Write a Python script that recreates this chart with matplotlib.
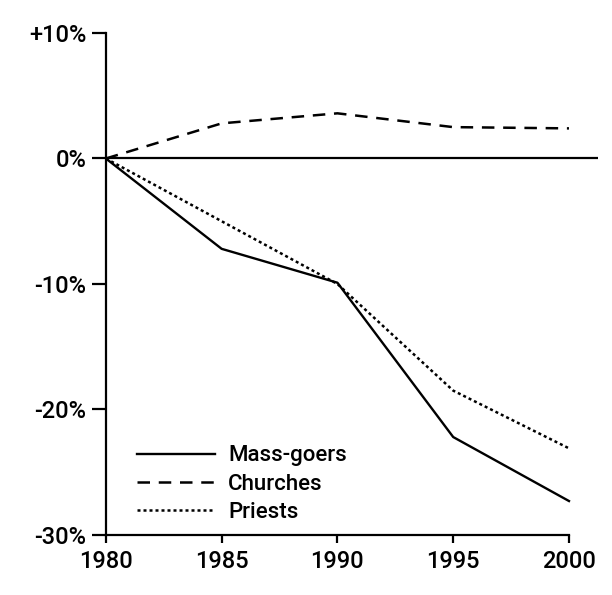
#!/usr/bin/env python3
# Mass-goers / churches / priests, % change since 1980
import numpy as np
import matplotlib
matplotlib.use("Agg")
import matplotlib.pyplot as plt

years = [1980, 1985, 1990, 1995, 2000]
mass_goers = [0.0, -7.2, -9.9, -22.2, -27.3]
churches = [0.0, 2.8, 3.6, 2.5, 2.4]
priests = [0.0, -5.0, -10.0, -18.5, -23.1]

yticks = [10, 0, -10, -20, -30]
ytick_labels = ["+10%", "0%", "-10%", "-20%", "-30%"]

plt.rcParams["font.family"] = ["Roboto", "DejaVu Sans"]
plt.rcParams["font.weight"] = "medium"

fig = plt.figure(figsize=(6.12, 5.95), dpi=100)
ax = fig.add_axes([0.173, 0.101, 0.804, 0.8435])

ax.axhline(0, color="black", lw=1.6, zorder=1)
ax.plot(years, mass_goers, color="black", lw=1.7, ls="-", label="Mass-goers")
ax.plot(years, churches, color="black", lw=1.8, ls=(0, (5, 3.5)), label="Churches")
ax.plot(years, priests, color="black", lw=1.8, ls=(0, (1.2, 1.2)), label="Priests")

ax.set_xlim(1980, 2001.25)
ax.set_ylim(-30, 10)
ax.set_xticks(years)
ax.set_yticks(yticks)
ax.set_yticklabels(ytick_labels)

for s in ["top", "right"]:
    ax.spines[s].set_visible(False)
ax.spines["left"].set_linewidth(1.6)
ax.spines["bottom"].set_linewidth(1.6)
ax.spines["bottom"].set_bounds(1980, 2000)
ax.tick_params(axis="y", direction="out", length=10, width=1.6,
               labelsize=17, pad=4)
ax.tick_params(axis="x", direction="out", length=6, width=1.6,
               labelsize=17, pad=5)

leg = ax.legend(loc="lower left", bbox_to_anchor=(0.045, 0.006), borderaxespad=0,
                frameon=False, handlelength=3.5, handletextpad=0.6,
                labelspacing=0.33, fontsize=16)

fig.savefig("out.png", dpi=100, facecolor="white")
